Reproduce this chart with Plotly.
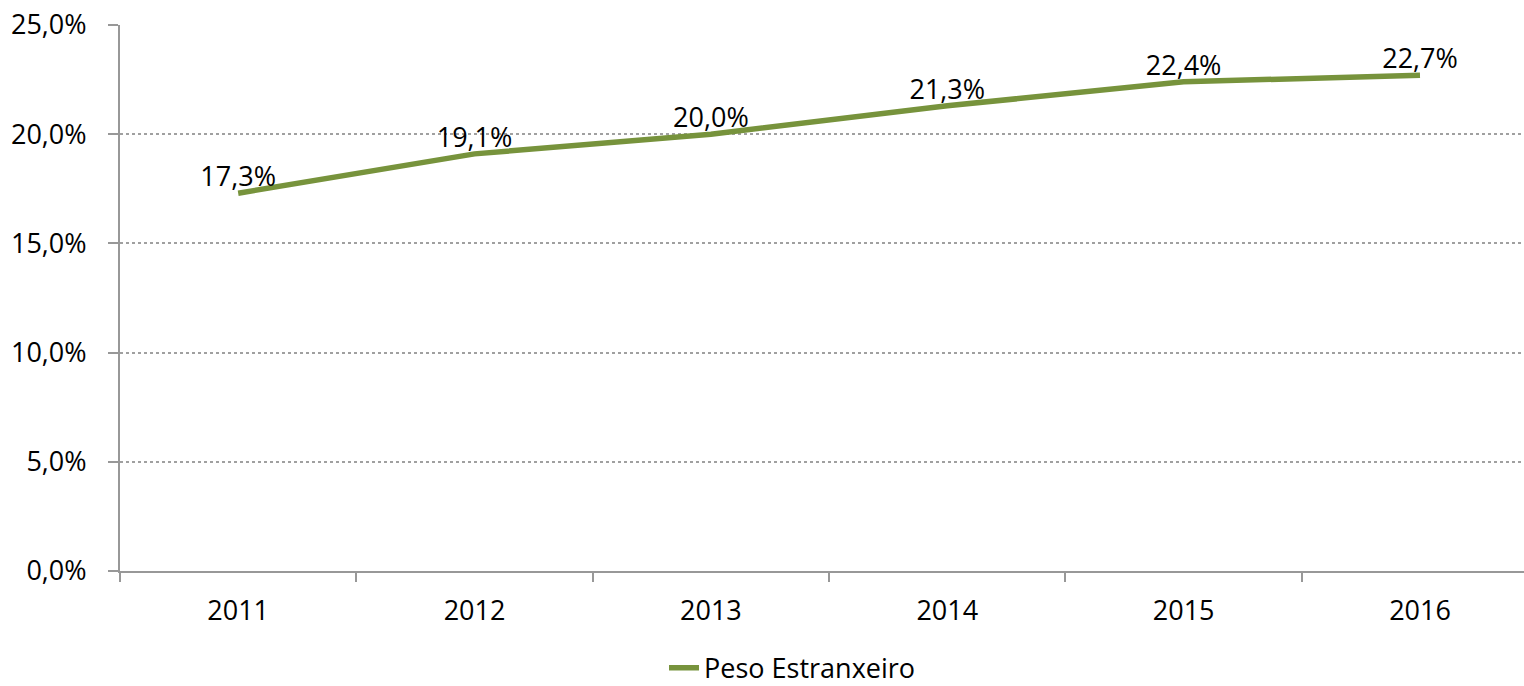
import plotly.graph_objects as go

years = ["2011", "2012", "2013", "2014", "2015", "2016"]
peso_estrangeiro = [17.3, 19.1, 20.0, 21.3, 22.4, 22.7]
series_name = "Peso Estranxeiro"
y_ticks = [0, 5, 10, 15, 20, 25]


def pct(v):
    return f"{v:.1f}".replace(".", ",") + "%"


labels = [pct(v) for v in peso_estrangeiro]
y_tick_text = [pct(v) for v in y_ticks]

FONT = "Open Sans, Liberation Sans, sans-serif"
FS = 27
GREEN = "#77933C"
AXIS = "#989898"

fig = go.Figure()
fig.add_trace(go.Scatter(
    x=years, y=peso_estrangeiro, mode="lines+text", name=series_name,
    text=labels, textposition="top center",
    textfont=dict(family=FONT, size=FS, color="#000000"),
    line=dict(color=GREEN, width=5.5),
    cliponaxis=False,
))

fig.update_layout(
    width=1524, height=686,
    margin=dict(l=120, r=0, t=25, b=115, autoexpand=False),
    paper_bgcolor="white", plot_bgcolor="white",
    font=dict(family=FONT, size=FS, color="#000000"),
    showlegend=True,
    legend=dict(orientation="h", x=0.479, xanchor="center", y=-0.178, yanchor="middle",
                font=dict(family=FONT, size=FS, color="#000000")),
)
fig.update_xaxes(
    type="category", range=[-0.5, 5.44],
    showline=True, linecolor=AXIS, linewidth=2,
    ticks="outside", tickson="boundaries", ticklen=9, tickcolor=AXIS, tickwidth=2,
    showgrid=False, tickfont=dict(family=FONT, size=FS), ticklabelstandoff=15,
)
fig.update_yaxes(
    range=[0, 25], tickvals=y_ticks, ticktext=y_tick_text,
    showline=True, linecolor=AXIS, linewidth=2,
    ticks="outside", ticklen=10, tickcolor=AXIS, tickwidth=2,
    showgrid=True, gridcolor="#a0a0a0", griddash="dot", gridwidth=1.5,
    zeroline=False, tickfont=dict(family=FONT, size=FS), ticklabelstandoff=16,
)

fig.write_html("out.html", config={"displayModeBar": False},
               post_script="document.body.style.margin='0';")
